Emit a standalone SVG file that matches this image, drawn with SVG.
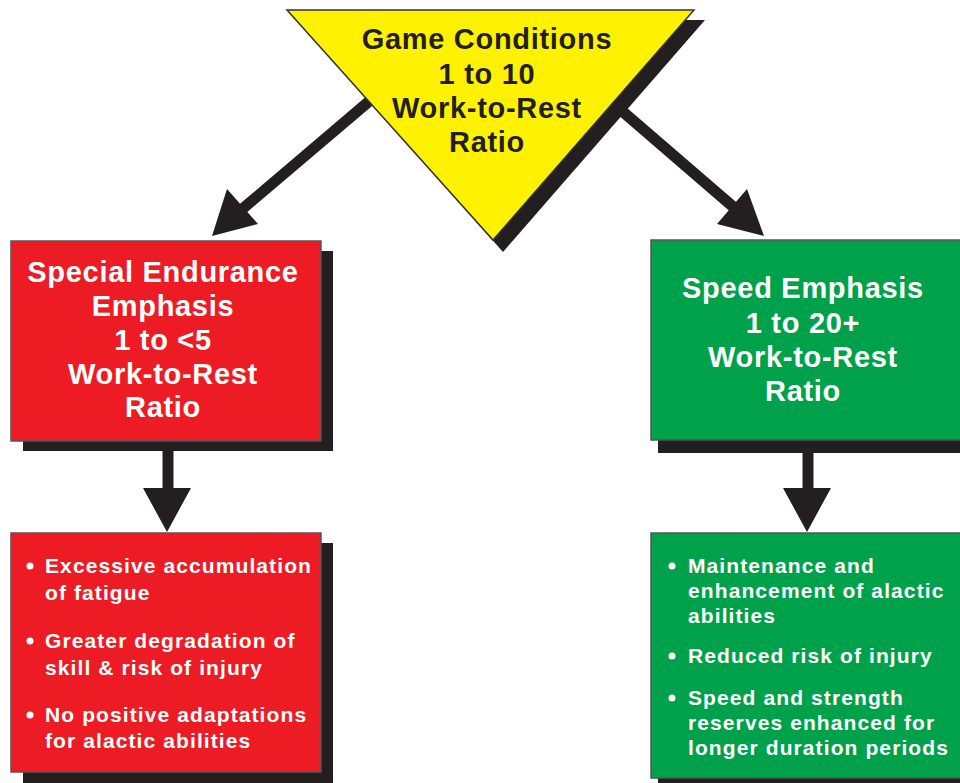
<svg xmlns="http://www.w3.org/2000/svg" width="960" height="783" viewBox="0 0 960 783">
  <defs>
    <style>
      .shadow { fill: #231f20; }
      .red { fill: #ed1c24; stroke: #555; stroke-width: 1.5; }
      .green { fill: #00a14b; stroke: #555; stroke-width: 1.5; }
      .yellow { fill: #fff200; stroke: #333; stroke-width: 1.5; }
      .title { font-family: "Liberation Sans", Arial, sans-serif; font-weight: bold; font-size: 29px; letter-spacing: 0.7px; text-anchor: middle; }
      .dark { fill: #231f20; }
      .light { fill: #ffffff; }
      .item { font-family: "Liberation Sans", Arial, sans-serif; font-weight: bold; font-size: 21px; letter-spacing: 1.1px; fill: #ffffff; }
      .wire { stroke: #231f20; stroke-width: 11; fill: none; }
      .head { fill: #231f20; }
    </style>
  </defs>
  <rect width="960" height="783" fill="#ffffff"/>

  <!-- connectors -->
  <g id="connectors">
    <!-- game conditions to special endurance -->
    <line class="wire" x1="380" y1="92" x2="240" y2="211"/>
    <polygon class="head" points="212,236 227,189 258,224"/>
    <!-- game conditions to speed -->
    <line class="wire" x1="600" y1="92" x2="738" y2="211"/>
    <polygon class="head" points="764,236 747,189 717,224"/>
    <!-- special endurance to its outcomes -->
    <line class="wire" x1="168" y1="445" x2="168" y2="492"/>
    <polygon class="head" points="143,488 191,488 167,532"/>
    <!-- speed to its outcomes -->
    <line class="wire" x1="808" y1="445" x2="808" y2="492"/>
    <polygon class="head" points="783,488 831,488 807,532"/>
  </g>

  <!-- top triangle -->
  <g id="game-conditions">
    <polygon class="shadow" points="297,20 705,20 503,252"/>
    <polygon class="yellow" points="287,10 694,10 493,240"/>
    <text class="title dark" x="487" y="49">Game Conditions</text>
    <text class="title dark" x="487" y="84">1 to 10</text>
    <text class="title dark" x="487" y="118">Work-to-Rest</text>
    <text class="title dark" x="487" y="152">Ratio</text>
  </g>

  <!-- left title box -->
  <g id="special-endurance">
    <rect class="shadow" x="23" y="251" width="310" height="200"/>
    <rect class="red" x="11" y="241" width="310" height="200"/>
    <text class="title light" x="163" y="282">Special Endurance</text>
    <text class="title light" x="163" y="316">Emphasis</text>
    <text class="title light" x="163" y="350">1 to &lt;5</text>
    <text class="title light" x="163" y="384">Work-to-Rest</text>
    <text class="title light" x="163" y="417">Ratio</text>
  </g>

  <!-- right title box -->
  <g id="speed-emphasis">
    <rect class="shadow" x="658" y="250" width="310" height="203"/>
    <rect class="green" x="651" y="240" width="312" height="200"/>
    <text class="title light" x="803" y="298">Speed Emphasis</text>
    <text class="title light" x="803" y="333">1 to 20+</text>
    <text class="title light" x="803" y="367">Work-to-Rest</text>
    <text class="title light" x="803" y="401">Ratio</text>
  </g>

  <!-- left outcomes -->
  <g id="endurance-outcomes">
    <rect class="shadow" x="23" y="543" width="310" height="250"/>
    <rect class="red" x="11" y="533" width="310" height="239"/>
    <circle cx="30" cy="566" r="3.5" fill="#ffffff"/>
    <text class="item" x="45" y="573">Excessive accumulation</text>
    <text class="item" x="45" y="600">of fatigue</text>
    <circle cx="30" cy="641" r="3.5" fill="#ffffff"/>
    <text class="item" x="45" y="648">Greater degradation of</text>
    <text class="item" x="45" y="675">skill &amp; risk of injury</text>
    <circle cx="30" cy="715" r="3.5" fill="#ffffff"/>
    <text class="item" x="45" y="722">No positive adaptations</text>
    <text class="item" x="45" y="748">for alactic abilities</text>
  </g>

  <!-- right outcomes -->
  <g id="speed-outcomes">
    <rect class="shadow" x="658" y="543" width="310" height="250"/>
    <rect class="green" x="651" y="533" width="312" height="245"/>
    <circle cx="672" cy="566" r="3.5" fill="#ffffff"/>
    <text class="item" x="688" y="573">Maintenance and</text>
    <text class="item" x="688" y="598">enhancement of alactic</text>
    <text class="item" x="688" y="623">abilities</text>
    <circle cx="672" cy="656" r="3.5" fill="#ffffff"/>
    <text class="item" x="688" y="663">Reduced risk of injury</text>
    <circle cx="672" cy="698" r="3.5" fill="#ffffff"/>
    <text class="item" x="688" y="705">Speed and strength</text>
    <text class="item" x="688" y="730">reserves enhanced for</text>
    <text class="item" x="688" y="755">longer duration periods</text>
  </g>
</svg>
